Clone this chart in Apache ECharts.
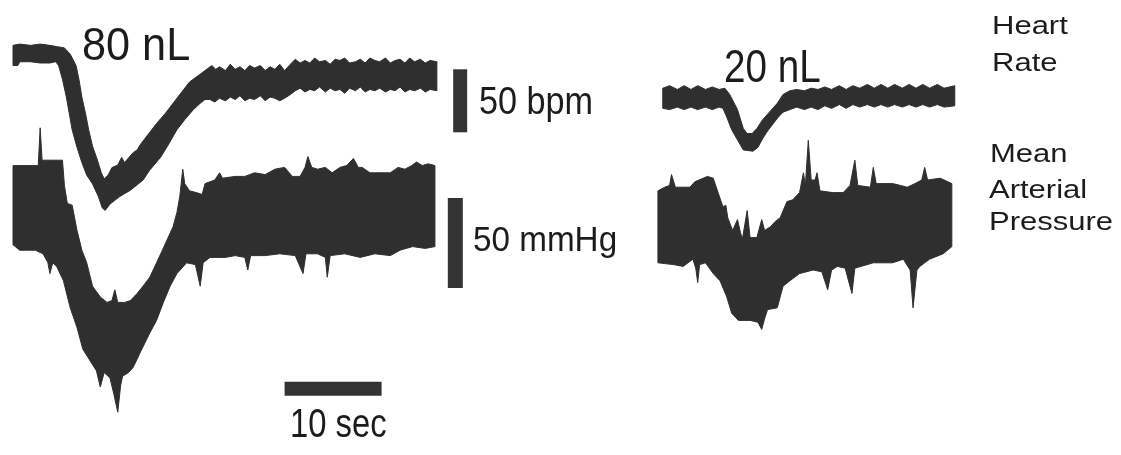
<!DOCTYPE html>
<html>
<head>
<meta charset="utf-8">
<script src="https://cdn.jsdelivr.net/npm/echarts@6/dist/echarts.min.js"></script>
<style>
html,body{margin:0;padding:0;background:#fff;}
#chart{width:1121px;height:455px;}
</style>
</head>
<body>
<div id="chart"></div>
<script>
// ---------- DATA (time in s, heart rate in bpm, pressure in mmHg) ----------
// 80 nL injection: heart-rate trace outline (upper / lower edge)
const hr80Upper = [[0,404],[0.7,405],[1.8,404],[2.8,405],[3.8,404],[4.5,403],[5.3,402],[5.9,397],[6.5,388],[6.8,377],[7.1,363],[7.5,349],[7.8,337],[8.2,324],[8.7,313],[9.1,303],[9.4,298],[9.8,301],[10.2,307],[10.8,309],[11.2,315],[11.5,311],[12.4,319],[12.8,321],[13.1,325],[13.9,333],[14.8,342],[15.7,350],[16.5,358],[17.4,367],[18.2,375],[19.1,380],[19.8,384],
  [20.5,388],[20.9,385],[21.3,387],[21.9,384],[22.4,389],[22.9,385],[23.4,387],[23.9,384],[24.4,388],[24.9,386],[25.5,388],[26.0,384],[26.5,387],[27.0,385],[27.5,389],[28.0,384],[28.6,389],[29.1,393],[29.6,390],[30.1,392],[30.6,390],[31.1,394],[31.6,391],[32.2,392],[32.7,389],[33.2,393],[33.7,392],[34.2,394],[34.7,390],[35.3,391],[35.8,393],[36.3,390],[36.8,394],[37.3,392],[37.8,391],[38.4,394],[38.9,390],[39.4,392],[39.9,393],[40.4,390],[40.9,394],[41.4,391],[42.0,393],[42.5,390],[43.0,392],[43.7,391]];
const hr80Lower = [[0,388],[0.5,388],[0.7,391],[1.8,391],[2.8,390],[3.8,390],[4.4,391],[4.7,388],[5.1,377],[5.5,363],[5.8,350],[6.1,337],[6.6,323],[7.1,311],[7.6,301],[8.2,294],[8.8,284],[9.2,275],[9.5,273],[10.0,278],[10.5,281],[11.0,284],[12.1,289],[13.4,297],[14.1,305],[15.2,315],[16.0,325],[16.9,337],[17.7,345],[18.6,353],[19.3,358],[19.8,361],
  [20.3,361],[20.8,359],[21.3,362],[21.9,360],[22.4,363],[22.9,361],[23.4,364],[23.9,360],[24.4,362],[24.9,361],[25.5,364],[26.0,360],[26.5,363],[27.0,362],[27.5,360],[28.0,362],[28.6,365],[29.1,368],[29.6,370],[30.1,367],[30.6,369],[31.1,368],[31.6,371],[32.2,367],[32.7,370],[33.2,368],[33.7,369],[34.2,366],[34.7,370],[35.3,368],[35.8,371],[36.3,367],[36.8,369],[37.3,368],[37.8,370],[38.4,367],[38.9,369],[39.4,368],[39.9,371],[40.4,367],[40.9,369],[41.4,368],[42.0,370],[42.5,367],[43.0,369],[43.7,368]];
// 80 nL injection: mean arterial pressure outline
const map80Upper = [[0,158],[2.6,158],[2.8,179],[3.0,161],[3.8,161],[5.1,161],[5.3,147],[5.6,137],[6.1,136],[6.6,122],[7.1,111],[7.6,104],[8.2,91],[9.0,85],[9.7,82],[10.2,83],[10.5,89],[10.8,82],[11.5,82],[12.1,83],[12.8,87],[13.4,91],[14.1,96],[14.8,104],[15.4,111],[15.9,117],[16.5,124],[16.9,132],[17.2,141],[17.5,156],[17.7,148],[18.2,144],[18.9,143],[19.5,142],[19.8,148],[20.8,150],[21.3,154],[21.6,151],[22.9,152],[23.9,152],[24.9,154],[26.0,153],[27.0,156],[28.0,157],[28.8,152],[29.6,152],[30.1,157],[30.4,163],[30.8,157],[31.4,156],[32.2,157],[32.9,154],[33.7,157],[34.4,158],[35.1,162],[35.6,157],[36.0,157],[36.8,154],[37.8,154],[38.9,154],[39.7,157],[40.4,156],[41.1,158],[41.6,160],[42.2,158],[42.8,159],[43.5,158]];
const map80Lower = [[0,114],[0.7,111],[2.3,111],[3.1,109],[3.6,104],[3.8,98],[4.1,104],[4.5,102],[5.2,94],[5.9,79],[6.6,68],[7.2,56],[7.9,50],[8.6,44],[9.0,35],[9.4,43],[10.0,40],[10.4,31],[10.8,21],[11.1,36],[11.3,41],[11.9,43],[12.4,46],[13.1,54],[14.1,65],[14.8,72],[15.5,82],[16.2,91],[16.9,98],[17.9,104],[18.8,103],[19.3,91],[19.6,104],[20.3,107],[21.9,107],[22.9,108],[23.9,107],[24.2,100],[24.5,108],[26.0,108],[27.5,109],[29.1,108],[29.9,98],[30.2,109],[31.4,109],[32.2,107],[32.4,96],[32.7,108],[34.2,109],[35.8,107],[37.3,109],[38.9,108],[39.9,111],[41.2,113],[42.5,112],[43.5,113]];
// 20 nL injection: heart-rate trace outline
const hr20Upper = [[0.7,370],[1.4,372],[2.2,369],[2.9,372],[3.6,369],[4.3,372],[5.1,369],[5.8,371],[6.5,369],[7.1,370],[7.6,365],[8.4,353],[9.0,338],[9.4,334],[9.9,334],[10.4,338],[11.0,345],[11.8,352],[12.5,358],[13.1,365],[13.8,368],[14.5,369],[15.3,368],[16.0,370],[16.7,369],[17.4,371],[18.1,369],[18.9,372],[19.6,369],[20.3,372],[21.0,370],[21.8,373],[22.5,370],[23.2,373],[23.9,370],[24.6,373],[25.4,370],[26.1,373],[26.8,370],[27.5,373],[28.2,370],[29.0,373],[29.7,370],[30.8,372]];
const hr20Lower = [[0.7,354],[1.4,353],[2.2,355],[2.9,353],[3.6,355],[4.3,353],[5.1,355],[5.8,353],[6.5,355],[6.9,354],[7.3,347],[7.8,337],[8.4,329],[9.0,321],[10.0,320],[10.5,323],[11.0,330],[11.5,336],[12.1,342],[12.6,347],[13.1,351],[13.8,353],[14.5,355],[15.3,353],[16.0,355],[16.7,353],[17.4,356],[18.1,354],[18.9,357],[19.6,354],[20.3,357],[21.0,355],[21.8,357],[22.5,355],[23.2,357],[23.9,355],[24.6,357],[25.4,355],[26.1,357],[26.8,355],[27.5,357],[28.2,355],[29.0,357],[29.7,355],[30.8,356]];
// 20 nL injection: mean arterial pressure outline
const map20Upper = [[0.2,144],[0.9,146],[1.4,147],[1.6,153],[2.0,146],[3.5,146],[4.0,149],[5.3,152],[5.9,151],[6.4,143],[6.9,135],[7.2,136],[7.4,129],[7.9,122],[8.4,128],[8.7,121],[8.9,117],[9.4,133],[9.7,118],[10.4,118],[10.9,128],[11.2,122],[11.8,124],[12.3,127],[12.8,129],[13.5,138],[14.1,139],[14.8,143],[15.2,154],[15.4,147],[15.7,172],[16.0,150],[16.4,150],[16.6,154],[16.9,144],[18.2,143],[19.3,143],[20.0,147],[20.5,161],[20.8,147],[22.1,146],[22.4,157],[22.7,148],[24.4,148],[25.2,147],[25.9,146],[26.7,148],[27.4,150],[27.7,157],[28.0,150],[29.3,151],[30.5,148]];
const map20Lower = [[0.2,104],[1.8,103],[2.8,102],[3.8,106],[4.1,101],[4.3,93],[4.5,103],[5.1,104],[5.9,98],[6.6,94],[7.3,85],[7.8,76],[8.5,72],[9.7,72],[10.5,71],[10.9,67],[11.2,73],[11.5,78],[12.5,79],[13.1,91],[13.8,94],[14.8,98],[16.2,100],[17.1,99],[17.7,89],[18.1,100],[18.7,102],[19.5,101],[20.2,87],[20.5,101],[22.4,104],[24.4,104],[25.5,106],[26.2,100],[26.5,79],[26.9,100],[27.2,102],[28.2,106],[29.6,109],[30.5,113]];
// calibration bars
const bpmBar = [[46.1,335],[46.1,385]];     // 50 bpm
const mmHgBar = [[45.6,90],[45.6,140]];     // 50 mmHg
const timeBar = [[28.0,34],[38.0,34]];      // 10 sec
// texts
const doseLabels = ['80 nL','20 nL'];
const barLabels = ['50 bpm','50 mmHg','10 sec'];
const traceLabels = [['Heart','Rate'],['Mean','Arterial','Pressure']];

// ---------- CHART ----------
const PX_PER_SEC = 9.7, PX_PER_BPM = 1.26, PX_PER_MMHG = 1.8, H = 455;
const BPM_TOP = 440, MMHG_TOP = 250;
const TRACE = '#2f2f2f', INK = '#1c1c1c', FONT = '"Liberation Sans", Arial, Helvetica, sans-serif';

const chart = echarts.init(document.getElementById('chart'), null, {renderer:'canvas'});

function yAxes(gridIndex){
  return [
    {type:'value', gridIndex, min:BPM_TOP - H/PX_PER_BPM, max:BPM_TOP, show:false},
    {type:'value', gridIndex, min:MMHG_TOP - H/PX_PER_MMHG, max:MMHG_TOP, show:false}
  ];
}
function band(upper, lower, xi, yi){
  const outline = upper.concat(lower.slice().reverse());
  return {
    type:'custom', xAxisIndex:xi, yAxisIndex:yi, data:[[1,100]], silent:true, animation:false,
    renderItem:function(params, api){
      return {type:'polygon', shape:{points:outline.map(function(p){return api.coord(p);})},
              style:{fill:TRACE, stroke:TRACE, lineWidth:1, lineJoin:'miter'}};
    }
  };
}
function bar(data, yi, w){
  return {type:'line', xAxisIndex:0, yAxisIndex:yi, data:data, symbol:'none', silent:true, animation:false,
          lineStyle:{width:w, color:'#333', cap:'butt'}};
}
function txt(text, x, y, size, sx){
  return {type:'text', x:x, y:y, scaleX:sx, silent:true,
          style:{text:text, font:size+'px '+FONT, fill:INK, textAlign:'left', align:'left',
                 textVerticalAlign:'middle', verticalAlign:'middle'}};
}

const option = {
  backgroundColor:'#ffffff',
  animation:false,
  grid:[
    {left:13, top:0, width:48*PX_PER_SEC, height:H},
    {left:656, top:0, width:31*PX_PER_SEC, height:H}
  ],
  xAxis:[
    {type:'value', gridIndex:0, min:0, max:48, show:false},
    {type:'value', gridIndex:1, min:0, max:31, show:false}
  ],
  yAxis: yAxes(0).concat(yAxes(1)),
  series:[
    band(hr80Upper, hr80Lower, 0, 0),
    band(map80Upper, map80Lower, 0, 1),
    band(hr20Upper, hr20Lower, 1, 2),
    band(map20Upper, map20Lower, 1, 3),
    bar(bpmBar, 0, 14),
    bar(mmHgBar, 1, 15),
    bar(timeBar, 1, 14)
  ],
  graphic:[
    txt(doseLabels[0], 82, 47, 46, 0.94),
    txt(doseLabels[1], 724, 69, 46, 0.84),
    txt(barLabels[0], 479, 104, 38, 0.9),
    txt(barLabels[1], 473, 241, 35, 0.95),
    txt(barLabels[2], 290, 426, 41, 0.8),
    txt(traceLabels[0][0], 992, 27, 25, 1.24),
    txt(traceLabels[0][1], 992, 64, 25, 1.24),
    txt(traceLabels[1][0], 990, 155, 25, 1.24),
    txt(traceLabels[1][1], 989, 191, 25, 1.24),
    txt(traceLabels[1][2], 989, 223, 25, 1.24)
  ]
};
chart.setOption(option);
</script>
</body>
</html>
